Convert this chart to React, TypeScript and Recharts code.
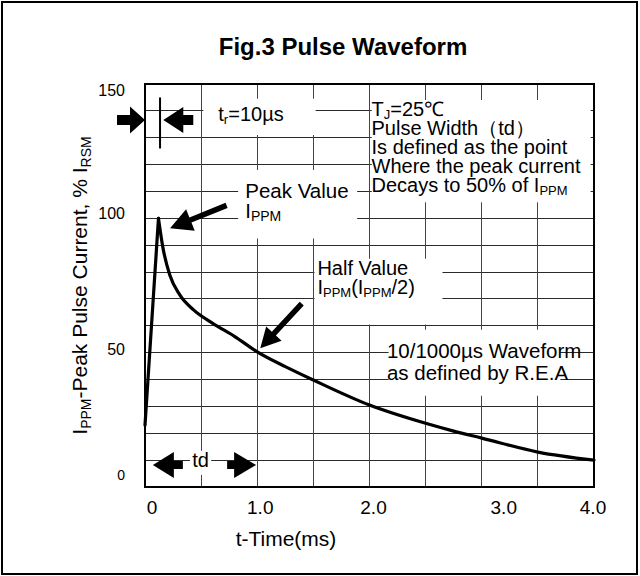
import React from 'react'
import {
  LineChart,
  Line,
  XAxis,
  YAxis,
  CartesianGrid,
  ReferenceArea,
  ReferenceDot,
  ReferenceLine,
} from 'recharts'

// values (time in ms, current in % of peak)
const timeMs = [0, 0.12, 0.16, 0.22, 0.31, 0.43, 0.6, 0.8, 1.0, 1.25, 1.5, 2.0, 2.5, 2.75, 3.0, 3.5, 4.0]
const currentPct = [23, 100, 89, 79, 71.5, 66, 61, 56, 50.3, 44.8, 39.8, 30.5, 23.7, 20.8, 18.2, 13, 10]

const xTicks = [0, 0.5, 1, 1.5, 2, 2.5, 3, 3.5, 4]
const xTickLabels = ['0', '', '1.0', '', '2.0', '', '3.0', '', '4.0']
const yTicks = [0, 10, 20, 30, 40, 50, 60, 70, 80, 90, 100, 110, 120, 130, 140, 150]
const yTickLabels = ['0', '', '', '', '', '50', '', '', '', '', '100', '', '', '', '', '150']

const FONT = '"Liberation Sans", Arial, Helvetica, sans-serif'

const peakIdx = currentPct.indexOf(Math.max(...currentPct))
const rows = timeMs.map((t, i) => ({
  t,
  rise: i <= peakIdx ? currentPct[i] : undefined,
  decay: i >= peakIdx ? currentPct[i] : undefined,
}))

// the label offsets in the original print are a bit irregular
const xLabelShift: Record<number, number> = { 0: 7, 1: 3, 2: 4, 3: 22, 4: -1 }
const yLabelShift: Record<number, number> = { 0: -12, 50: -3, 100: -5, 150: 6 }

function parseRuns(s: string) {
  return s
    .split(/(_\{[^}]*\})/)
    .filter(Boolean)
    .map((p) => (p.startsWith('_{') ? { text: p.slice(2, -1), sub: true } : { text: p, sub: false }))
}

function RichText({ x, y, text, size, anchor = 'start', rotate }: any) {
  const runs = parseRuns(text)
  const shift = Math.round(size * 0.17)
  let down = false
  const spans = runs.map((r, i) => {
    let dy = 0
    if (r.sub && !down) {
      dy = shift
      down = true
    } else if (!r.sub && down) {
      dy = -shift
      down = false
    }
    return (
      <tspan key={i} dy={dy || undefined} fontSize={r.sub ? Math.round(size * 0.66) : undefined}>
        {r.text}
      </tspan>
    )
  })
  return (
    <text
      x={x}
      y={y}
      fontSize={size}
      fontFamily={FONT}
      fill="#000"
      textAnchor={anchor}
      transform={rotate ? `rotate(${rotate} ${x} ${y})` : undefined}
    >
      {spans}
    </text>
  )
}

const note = (lines: string[], size: number, gap: number) => (p: any) => (
  <g>
    {lines.map((l, i) => (
      <RichText key={i} x={p.cx} y={p.cy + i * gap} text={l} size={size} />
    ))}
  </g>
)

const arrow = (angle: number, head: number, headW: number, shaft: number, shaftW: number) => (p: any) => {
  const pts = [
    [0, 0],
    [-head, -headW / 2],
    [-head, -shaftW / 2],
    [-head - shaft, -shaftW / 2],
    [-head - shaft, shaftW / 2],
    [-head, shaftW / 2],
    [-head, headW / 2],
  ]
  return (
    <polygon
      points={pts.map((q) => q.join(',')).join(' ')}
      transform={`translate(${p.cx} ${p.cy}) rotate(${angle})`}
      fill="#000"
    />
  )
}

const gridLine = (color: string) => (p: any) => (
  <line
    key={`${p.x1}-${p.y1}-${p.x2}-${p.y2}`}
    x1={p.x1}
    y1={p.y1}
    x2={p.x2}
    y2={p.y2}
    stroke={color}
    strokeWidth={1}
    shapeRendering="crispEdges"
  />
)

function XTick({ x, y, payload }: any) {
  const label = xTickLabels[xTicks.indexOf(payload.value)]
  if (!label) return <g />
  return (
    <text x={x + (xLabelShift[payload.value] ?? 0)} y={y} dy="0.71em" textAnchor="middle" fontSize={19} fontFamily={FONT} fill="#000">
      {label}
    </text>
  )
}

function YTick({ x, y, payload }: any) {
  const label = yTickLabels[yTicks.indexOf(payload.value)]
  if (!label) return <g />
  return (
    <text
      x={x}
      y={y + (yLabelShift[payload.value] ?? 0)}
      dy="0.355em"
      textAnchor="end"
      fontSize={payload.value === 0 ? 14 : 16}
      fontFamily={FONT}
      fill="#000"
    >
      {label}
    </text>
  )
}

const YTitle = (props: any) => {
  const vb = props.viewBox
  return <RichText x={vb.x + 2} y={vb.y + vb.height / 2} text="I_{PPM}-Peak Pulse Current, % I_{RSM}" size={21} anchor="middle" rotate={-90} />
}

const XTitle = (props: any) => {
  const vb = props.viewBox
  return <RichText x={vb.x + 141} y={vb.y + 59} text="t-Time(ms)" size={21} anchor="middle" />
}

const mask = { fill: '#fff', fillOpacity: 1, stroke: 'none', ifOverflow: 'visible' as const }

export default function App() {
  return (
    <div style={{ position: 'absolute', left: 0, top: 0, width: 640, height: 576, background: '#fff', overflow: 'hidden' }}>
      <div
        style={{
          position: 'absolute',
          left: 1,
          top: 1,
          width: 637,
          height: 574,
          border: '2px solid #000',
          boxSizing: 'border-box',
        }}
      />
      <div
        style={{
          position: 'absolute',
          left: 343,
          top: 35,
          transform: 'translateX(-50%)',
          whiteSpace: 'nowrap',
          fontFamily: FONT,
          fontWeight: 'bold',
          fontSize: 24,
          lineHeight: '24px',
          color: '#000',
        }}
      >
        Fig.3 Pulse Waveform
      </div>
      <div style={{ position: 'absolute', left: 0, top: 0 }}>
        <LineChart width={640} height={576} data={rows} margin={{ top: 84, right: 46, bottom: 49, left: 85 }}>
          <CartesianGrid vertical={false} horizontal={gridLine('#2a2a2a')} />
          <CartesianGrid horizontal={false} vertical={gridLine('#444')} />
          <XAxis
            dataKey="t"
            type="number"
            domain={[0, 4]}
            ticks={xTicks}
            interval={0}
            tick={<XTick />}
            tickLine={false}
            axisLine={false}
            tickMargin={8}
            height={40}
            label={XTitle}
          />
          <YAxis
            type="number"
            domain={[0, 150]}
            ticks={yTicks}
            interval={0}
            tick={<YTick />}
            tickLine={false}
            axisLine={false}
            tickMargin={14}
            width={60}
            label={YTitle}
          />

          {/* white boxes behind the annotations */}
          <ReferenceArea x1={0.52} x2={1.52} y1={131} y2={144.5} {...mask} />
          <ReferenceArea x1={0.83} x2={1.89} y1={92.5} y2={118} {...mask} />
          <ReferenceArea x1={2.02} x2={3.97} y1={106} y2={144} {...mask} />
          <ReferenceArea x1={1.51} x2={2.65} y1={60.5} y2={85} {...mask} />
          <ReferenceArea x1={2.17} x2={3.7} y1={34} y2={58.5} {...mask} />
          <ReferenceArea x1={0.4} x2={0.59} y1={4.5} y2={13.5} {...mask} />
          <ReferenceArea x1={0} x2={4} y1={0} y2={150} fill="none" stroke="#000" strokeWidth={2} />

          <Line dataKey="rise" type="linear" stroke="#000" strokeWidth={3.2} strokeLinecap="round" dot={false} isAnimationActive={false} />
          <Line dataKey="decay" type="monotone" stroke="#000" strokeWidth={3.2} strokeLinecap="round" dot={false} isAnimationActive={false} />

          {/* rise-time marker */}
          <ReferenceLine segment={[{ x: 0.134, y: 126 }, { x: 0.134, y: 145 }]} stroke="#000" strokeWidth={2} ifOverflow="visible" />
          <ReferenceDot x={0} y={136.6} r={0} ifOverflow="visible" shape={arrow(0, 15, 27, 13, 10)} />
          <ReferenceDot x={0.163} y={136.6} r={0} ifOverflow="visible" shape={arrow(180, 20, 26, 10, 10)} />
          <ReferenceDot x={0.653} y={136.3} r={0} ifOverflow="visible" shape={note(['t_{r}=10µs'], 20, 0)} />

          {/* pulse width marker */}
          <ReferenceDot x={0.07} y={8.2} r={0} ifOverflow="visible" shape={arrow(180, 21, 26, 9, 8)} />
          <ReferenceDot x={0.99} y={8.2} r={0} ifOverflow="visible" shape={arrow(0, 22, 26, 7, 8)} />
          <ReferenceDot x={0.42} y={7.6} r={0} ifOverflow="visible" shape={note(['td'], 20, 0)} />

          {/* callouts */}
          <ReferenceDot x={0.223} y={96.3} r={0} ifOverflow="visible" shape={arrow(158, 22, 23, 39, 5.5)} />
          <ReferenceDot x={0.893} y={107.6} r={0} ifOverflow="visible" shape={note(['Peak Value', 'I_{PPM}'], 20.5, 20)} />
          <ReferenceDot x={1.027} y={51.6} r={0} ifOverflow="visible" shape={arrow(132.8, 20, 21, 41, 5.5)} />
          <ReferenceDot x={1.536} y={78.9} r={0} ifOverflow="visible" shape={note(['Half Value', 'I_{PPM}(I_{PPM}/2)'], 20, 19)} />
          <ReferenceDot
            x={2.018}
            y={138.1}
            r={0}
            ifOverflow="visible"
            shape={note(
              ['T_{J}=25℃', 'Pulse Width（td）', 'Is defined as the point', 'Where the peak current', 'Decays to 50% of I_{PPM}'],
              20,
              19,
            )}
          />
          <ReferenceDot x={2.155} y={48} r={0} ifOverflow="visible" shape={note(['10/1000µs Waveform', 'as defined by R.E.A'], 20.5, 22)} />
        </LineChart>
      </div>
    </div>
  )
}
